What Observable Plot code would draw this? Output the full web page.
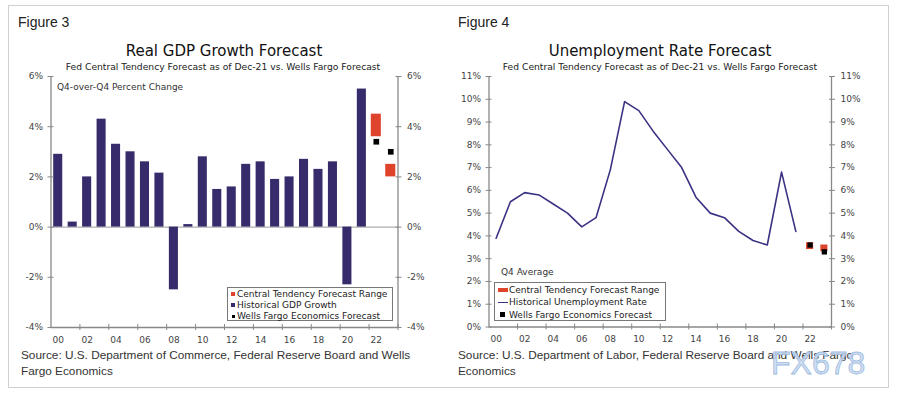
<!DOCTYPE html>
<html>
<head>
<meta charset="utf-8">
<script src="https://cdn.jsdelivr.net/npm/d3@7"></script>
<script src="https://cdn.jsdelivr.net/npm/@observablehq/plot@0.6"></script>
<style>
  html, body { margin: 0; padding: 0; background: #fff; }
  #page { position: relative; width: 900px; height: 399px; overflow: hidden; background: #fff; }
  .abs { position: absolute; white-space: nowrap; }
  .vc { transform: translateY(-50%); }
  .cc { transform: translate(-50%, -50%); }
  .fig { font-family: "Liberation Sans", Arial, sans-serif; font-size: 14px; color: #222; }
  .title { font-family: "DejaVu Sans", Verdana, sans-serif; font-size: 15px; color: #111; }
  .sub { font-family: "DejaVu Sans", Verdana, sans-serif; font-size: 9.2px; color: #222; }
  .note { font-family: "DejaVu Sans", Verdana, sans-serif; font-size: 9px; color: #333; }
  .src { font-family: "Liberation Sans", Arial, sans-serif; font-size: 11.8px; color: #333; line-height: 16px; }
  .legend { position: absolute; border: 1px solid #777; background: #fff; box-sizing: border-box;
            font-family: "DejaVu Sans", Verdana, sans-serif; font-size: 9px; color: #222; }
  .legend .row { position: absolute; left: 0; height: 12px; line-height: 12px; white-space: nowrap; }
  .legend .sw { position: absolute; }
  .legend .lbl { position: absolute; }
  svg { position: absolute; }
  .wm { font-family: "Liberation Sans", Arial, sans-serif; font-size: 32px; color: rgba(200,218,240,0.85);
        -webkit-text-stroke: 0.8px #9dbbe0; letter-spacing: 0px; }
</style>
</head>
<body>
<div id="page"></div>
<script>
// ---------- data ----------
const gdpYears = [2000,2001,2002,2003,2004,2005,2006,2007,2008,2009,2010,2011,2012,2013,2014,2015,2016,2017,2018,2019,2020,2021];
const gdpValues = [2.9,0.2,2.0,4.3,3.3,3.0,2.6,2.15,-2.5,0.1,2.8,1.5,1.6,2.5,2.6,1.9,2.0,2.7,2.3,2.6,-2.3,5.5];

const forecastYears = [2022, 2023];
const gdpFedLow = [3.6, 2.0];
const gdpFedHigh = [4.5, 2.5];
const gdpWellsFargo = [3.4, 3.0];

const unempYears = gdpYears;
const unempValues = [3.9,5.5,5.9,5.8,5.4,5.0,4.4,4.8,6.9,9.9,9.5,8.6,7.8,7.0,5.7,5.0,4.8,4.2,3.8,3.6,6.8,4.2];
const unempFedLow = [3.4, 3.3];
const unempFedHigh = [3.7, 3.6];
const unempWellsFargo = [3.6, 3.3];

const xDomain = [1999.5, 2023.5];
const xTickYears = [2000,2002,2004,2006,2008,2010,2012,2014,2016,2018,2020,2022];
const xTickLabels = ["00","02","04","06","08","10","12","14","16","18","20","22"];
const gdpYDomain = [-4, 6];
const gdpYTicks = [-4,-2,0,2,4,6];
const unempYDomain = [0, 11];
const unempYTicks = [0,1,2,3,4,5,6,7,8,9,10,11];

// ---------- styles ----------
const navy = "#372b6c";
const lineNavy = "#3a3283";
const red = "#e0432b";
const axisColor = "#888";

const gdp = gdpYears.map((year, i) => ({year, value: gdpValues[i]}));
const gdpFc = forecastYears.map((year, i) => ({year, low: gdpFedLow[i], high: gdpFedHigh[i], wf: gdpWellsFargo[i]}));
const unemp = unempYears.map((year, i) => ({year, value: unempValues[i]}));
const unempFc = forecastYears.map((year, i) => ({year, low: unempFedLow[i], high: unempFedHigh[i], wf: unempWellsFargo[i]}));
const boundaries = xTickYears.map(y => y + 1.5);
const fmtYear = d => xTickLabels[xTickYears.indexOf(d)];
const pct = d => d + "%";

function axes(yTicks, yDomain) {
  return [
    Plot.ruleX(xDomain, {stroke: axisColor, strokeWidth: 1.3}),
    Plot.ruleY([yDomain[0]], {stroke: axisColor, strokeWidth: 1.3}),
    Plot.axisY({anchor: "left", ticks: yTicks, tickFormat: pct, tickSize: 0, tickPadding: 8, label: null}),
    Plot.axisY({anchor: "left", ticks: yTicks, tickFormat: () => "", tickSize: 6, dx: 3, stroke: axisColor, label: null}),
    Plot.axisY({anchor: "right", ticks: yTicks, tickFormat: pct, tickSize: 0, tickPadding: 9, label: null}),
    Plot.axisY({anchor: "right", ticks: yTicks, tickFormat: () => "", tickSize: 6, dx: -3, stroke: axisColor, label: null}),
    Plot.axisX({ticks: xTickYears, tickFormat: fmtYear, tickSize: 0, tickPadding: 9, label: null}),
    Plot.axisX({ticks: boundaries, tickFormat: () => "", tickSize: 6, dy: -3, stroke: axisColor, label: null})
  ];
}

const baseStyle = {fontFamily: "DejaVu Sans, Verdana, sans-serif", fontSize: "9px", color: "#444", background: "transparent", overflow: "visible"};

const gdpChart = Plot.plot({
  width: 450, height: 290,
  marginLeft: 50.5, marginRight: 52.5, marginTop: 10, marginBottom: 29,
  x: {domain: xDomain, axis: null, label: null},
  y: {domain: gdpYDomain, axis: null, label: null},
  style: baseStyle,
  marks: [
    Plot.ruleY([0], {stroke: "#999", strokeWidth: 1}),
    Plot.rectY(gdp, {x1: d => d.year - 0.5, x2: d => d.year + 0.5, y1: 0, y2: "value", fill: navy, insetLeft: 2.7, insetRight: 2.7}),
    Plot.rectY(gdpFc, {x1: d => d.year - 0.5, x2: d => d.year + 0.5, y1: "low", y2: "high", fill: red, insetLeft: 2.2, insetRight: 2.2}),
    Plot.dot(gdpFc, {x: "year", y: "wf", symbol: "square", fill: "#000", r: 3.2}),
    ...axes(gdpYTicks, gdpYDomain)
  ]
});

const unempChart = Plot.plot({
  width: 450, height: 290,
  marginLeft: 38.5, marginRight: 69, marginTop: 10, marginBottom: 29.5,
  x: {domain: xDomain, axis: null, label: null},
  y: {domain: unempYDomain, axis: null, label: null},
  style: baseStyle,
  marks: [
    Plot.line(unemp, {x: "year", y: "value", stroke: lineNavy, strokeWidth: 1.6}),
    Plot.rectY(unempFc, {x1: d => d.year - 0.5, x2: d => d.year + 0.5, y1: "low", y2: "high", fill: red, insetLeft: 3.6, insetRight: 3.6}),
    Plot.dot(unempFc, {x: "year", y: "wf", symbol: "square", fill: "#000", r: 3}),
    ...axes(unempYTicks, unempYDomain)
  ]
});

// ---------- layout ----------
const page = document.getElementById("page");
function add(html, cls, left, top) {
  const el = document.createElement("div");
  el.className = "abs " + cls;
  el.style.left = left + "px";
  el.style.top = top + "px";
  el.innerHTML = html;
  page.appendChild(el);
  return el;
}

const box = document.createElement("div");
Object.assign(box.style, {position: "absolute", left: "8px", top: "5px", width: "881px", height: "383px", border: "1px solid #d0d0d0", boxSizing: "border-box"});
page.appendChild(box);

gdpChart.style.left = "0px"; gdpChart.style.top = "66px";
unempChart.style.left = "450px"; unempChart.style.top = "66px";
page.appendChild(gdpChart);
page.appendChild(unempChart);

// Left panel texts
add("Figure 3", "fig vc", 18, 22);
add("Real GDP Growth Forecast", "title cc", 224, 51);
add("Fed Central Tendency Forecast as of Dec-21 vs. Wells Fargo Forecast", "sub cc", 223, 66);
add("Q4-over-Q4 Percent Change", "note vc", 57, 87);
add("Source: U.S. Department of Commerce, Federal Reserve Board and Wells<br>Fargo Economics", "src", 21, 347);

// Right panel texts
add("Figure 4", "fig vc", 458, 22);
add("Unemployment Rate Forecast", "title cc", 660, 51);
add("Fed Central Tendency Forecast as of Dec-21 vs. Wells Fargo Forecast", "sub cc", 660, 66);
add("Q4 Average", "note vc", 501, 272);
add("Source: U.S. Department of Labor, Federal Reserve Board and Wells Fargo<br>Economics", "src", 458, 347);

// Legends
function legend(left, top, width, height, rows) {
  const lg = document.createElement("div");
  lg.className = "legend";
  Object.assign(lg.style, {left: left + "px", top: top + "px", width: width + "px", height: height + "px"});
  rows.forEach((r, i) => {
    const row = document.createElement("div");
    row.className = "row";
    row.style.top = (r.y - 6) + "px";
    row.style.width = width + "px";
    const sw = document.createElement("div");
    sw.className = "sw";
    Object.assign(sw.style, r.sw);
    row.appendChild(sw);
    const lbl = document.createElement("div");
    lbl.className = "lbl";
    lbl.style.left = r.tx + "px";
    lbl.textContent = r.label;
    row.appendChild(lbl);
    lg.appendChild(row);
  });
  page.appendChild(lg);
}

legend(227, 287, 166, 34, [
  {y: 5.5, tx: 9, label: "Central Tendency Forecast Range", sw: {left: "3px", top: "4px", width: "4px", height: "4px", background: red}},
  {y: 16.5, tx: 9, label: "Historical GDP Growth", sw: {left: "3px", top: "4px", width: "4px", height: "4px", background: navy}},
  {y: 27.5, tx: 9, label: "Wells Fargo Economics Forecast", sw: {left: "4px", top: "5px", width: "3px", height: "3px", background: "#000"}}
]);

legend(494, 282, 172, 39, [
  {y: 6.5, tx: 14, label: "Central Tendency Forecast Range", sw: {left: "3px", top: "4px", width: "10px", height: "4px", background: red}},
  {y: 19, tx: 14, label: "Historical Unemployment Rate", sw: {left: "3px", top: "5.5px", width: "10px", height: "1.5px", background: lineNavy}},
  {y: 31.5, tx: 14, label: "Wells Fargo Economics Forecast", sw: {left: "5px", top: "3.5px", width: "5px", height: "5px", background: "#000"}}
]);

// Watermark
add("FX678", "wm", 771, 345);
</script>
</body>
</html>
